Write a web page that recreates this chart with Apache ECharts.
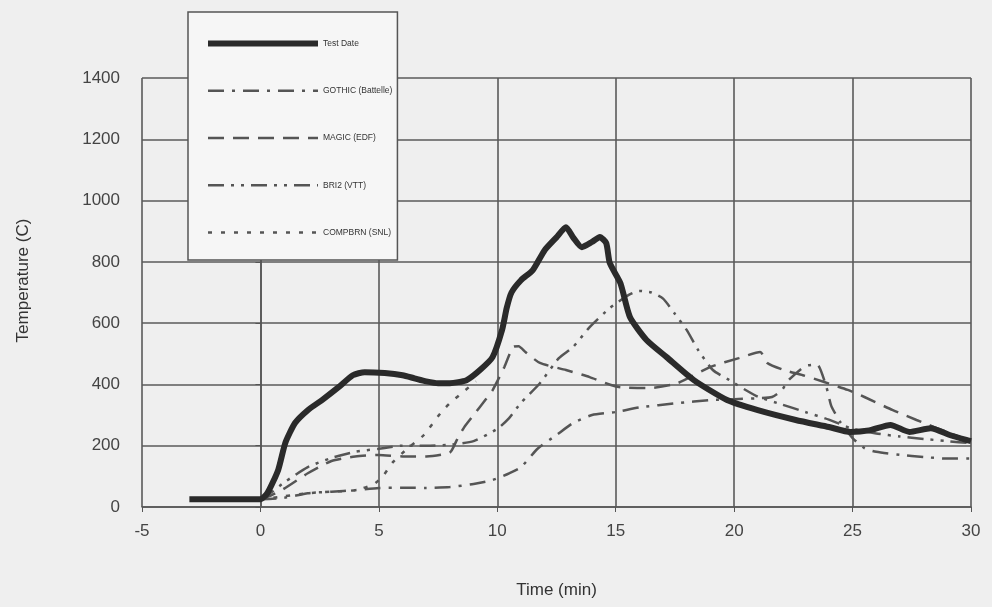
<!DOCTYPE html>
<html>
<head>
<meta charset="utf-8">
<script src="https://cdn.jsdelivr.net/npm/echarts@6/dist/echarts.min.js"></script>
<style>
  html, body { margin: 0; padding: 0; background: #efefef; }
  #main { width: 992px; height: 607px; }
</style>
</head>
<body>
<div id="main"></div>
<script>
// time (min) / temperature (C)
var testTime = [-3, -2, -1, 0, 0.3, 0.75, 1.05, 1.46, 2.0, 2.6, 3.3, 3.9, 4.4, 5.25, 6, 6.5, 7, 7.5, 8, 8.7, 9.27, 9.8, 10.2, 10.4, 10.6, 11, 11.5, 12, 12.5, 12.9, 13.2, 13.57, 14, 14.33, 14.6, 14.75, 15.2, 15.6, 16.3, 17.15, 18.3, 19.7, 21, 22.6, 24, 24.9, 25.7, 26.6, 27.4, 28.3, 29.1, 29.8, 30];
var testTemp = [25, 25, 25, 25, 46, 121, 209, 274, 316, 349, 391, 430, 440, 437, 430, 420, 410, 404, 404, 414, 447, 489, 577, 650, 700, 740, 773, 838, 880, 913, 880, 848, 865, 881, 861, 796, 730, 620, 545, 489, 414, 349, 316, 284, 261, 245, 250, 268, 245, 257, 235, 219, 215];

var gothicTime = [0, 1, 2, 3, 4, 5, 6, 7, 8, 9, 9.8, 10.5, 11, 11.7, 12.5, 13.2, 14, 15, 16, 17.6, 19, 20, 21, 21.6, 22, 22.3, 23, 23.5, 23.9, 24.1, 24.5, 25, 25.5, 26, 27, 28, 29, 30];
var gothicTemp = [25, 30, 45, 50, 55, 62, 63, 62, 65, 75, 88, 110, 130, 190, 235, 274, 300, 310, 325, 339, 349, 352, 355, 359, 380, 414, 460, 465, 390, 330, 275, 225, 192, 180, 170, 163, 158, 158];

var magicTime = [0, 0.5, 1, 2, 3, 4, 5, 6, 7, 8, 8.3, 8.6, 9, 9.5, 9.8, 10.3, 10.66, 10.9, 11.2, 11.8, 12.9, 13.9, 14.8, 15.2, 16.4, 17.6, 19, 20.2, 21.1, 21.4, 22.1, 22.9, 23.8, 24.8, 25.5, 26.7, 27.7, 29.1, 30];
var magicTemp = [25, 40, 60, 110, 150, 165, 170, 165, 165, 178, 220, 260, 300, 350, 381, 457, 522, 525, 505, 470, 447, 424, 398, 391, 388, 404, 457, 486, 506, 470, 447, 430, 408, 382, 359, 316, 284, 241, 215];

var bri2Time = [0, 0.5, 1, 2, 3, 4, 5, 6, 7, 8, 9, 10, 10.5, 11, 11.8, 12.6, 13.2, 13.9, 14.75, 15.5, 16, 16.5, 17, 17.5, 18, 18.5, 19.1, 19.8, 20.5, 21, 22, 23, 24, 25, 26, 27, 28, 29, 30];
var bri2Temp = [25, 50, 80, 130, 160, 180, 190, 200, 200, 203, 215, 255, 290, 340, 404, 486, 522, 587, 649, 690, 705, 700, 680, 630, 577, 510, 447, 414, 381, 360, 335, 310, 285, 255, 240, 230, 222, 215, 208];

var compTime = [0, 1, 2, 3, 4, 4.8, 5.2, 5.6, 6.2, 6.9, 7.6, 8.0, 8.4, 8.8, 9.1];
var compTemp = [25, 35, 45, 50, 55, 75, 104, 147, 190, 235, 306, 339, 365, 391, 410];

var seriesNames = ['Test Date', 'GOTHIC (Battelle)', 'MAGIC (EDF)', 'BRI2 (VTT)', 'COMPBRN (SNL)'];
var xTicks = [-5, 0, 5, 10, 15, 20, 25, 30];
var yTicks = [0, 200, 400, 600, 800, 1000, 1200, 1400];

function pairs(t, v) {
  var out = [];
  for (var i = 0; i < t.length; i++) out.push([t[i], v[i]]);
  return out;
}

var dashes = {
  gothic: [16, 8, 3, 8],
  magic: [16, 9],
  bri2: [16, 7, 3, 7, 3, 7],
  comp: [4, 9]
};

var chart = echarts.init(document.getElementById('main'));

var option = {
  backgroundColor: '#efefef',
  animation: false,
  textStyle: { fontFamily: 'Liberation Sans, Arial, sans-serif' },
  grid: { left: 142, right: 21, top: 78, bottom: 100 },
  legend: {
    orient: 'vertical',
    left: 188,
    top: 12,
    padding: [26, 5, 22, 17],
    itemGap: 36,
    itemWidth: 110,
    itemHeight: 14,
    backgroundColor: '#f6f6f6',
    borderColor: '#555',
    borderWidth: 1.5,
    itemStyle: { opacity: 0 },
    textStyle: { fontSize: 8.5, color: '#333' },
    data: [
      { name: seriesNames[0], lineStyle: { width: 6, color: '#2a2a2a' } },
      { name: seriesNames[1], lineStyle: { width: 2.5 } },
      { name: seriesNames[2], lineStyle: { width: 2.5 } },
      { name: seriesNames[3], lineStyle: { width: 2.5 } },
      { name: seriesNames[4], lineStyle: { width: 2.5 } }
    ]
  },
  xAxis: {
    type: 'value',
    min: xTicks[0],
    max: xTicks[xTicks.length - 1],
    interval: 5,
    name: 'Time (min)',
    nameLocation: 'middle',
    nameGap: 75,
    nameTextStyle: { fontSize: 17, color: '#333' },
    axisLine: { lineStyle: { color: '#555', width: 1.5 } },
    axisTick: { show: true, length: 5, lineStyle: { color: '#555' } },
    axisLabel: { fontSize: 17, color: '#444', margin: 16 },
    splitLine: { show: true, lineStyle: { color: '#5a5a5a', width: 1.6 } }
  },
  yAxis: {
    type: 'value',
    min: yTicks[0],
    max: yTicks[yTicks.length - 1],
    interval: 200,
    name: 'Temperature (C)',
    nameLocation: 'middle',
    nameGap: 110,
    nameTextStyle: { fontSize: 17, color: '#333', padding: [0, 0, 0, 24] },
    axisLine: { show: true, lineStyle: { color: '#555', width: 1.5 } },
    axisTick: { show: true, length: 5, lineStyle: { color: '#555' } },
    axisLabel: { fontSize: 17, color: '#444', margin: 22, formatter: function (v) { return String(v); } },
    splitLine: { show: true, lineStyle: { color: '#5a5a5a', width: 1.6 } }
  },
  series: [
    {
      name: seriesNames[0], type: 'line', showSymbol: false, symbol: 'none', smooth: 0.2, z: 5,
      lineStyle: { color: '#2a2a2a', width: 6 },
      itemStyle: { color: '#2a2a2a' },
      data: pairs(testTime, testTemp)
    },
    {
      name: seriesNames[1], type: 'line', showSymbol: false, symbol: 'none', smooth: 0.2,
      lineStyle: { color: '#555', width: 2.5, type: dashes.gothic },
      itemStyle: { color: '#555' },
      data: pairs(gothicTime, gothicTemp)
    },
    {
      name: seriesNames[2], type: 'line', showSymbol: false, symbol: 'none', smooth: 0.2,
      lineStyle: { color: '#555', width: 2.5, type: dashes.magic },
      itemStyle: { color: '#555' },
      data: pairs(magicTime, magicTemp)
    },
    {
      name: seriesNames[3], type: 'line', showSymbol: false, symbol: 'none', smooth: 0.2,
      lineStyle: { color: '#555', width: 2.5, type: dashes.bri2 },
      itemStyle: { color: '#555' },
      data: pairs(bri2Time, bri2Temp)
    },
    {
      name: seriesNames[4], type: 'line', showSymbol: false, symbol: 'none', smooth: 0.2,
      lineStyle: { color: '#555', width: 2.5, type: dashes.comp },
      itemStyle: { color: '#555' },
      data: pairs(compTime, compTemp)
    }
  ]
};

chart.setOption(option);
</script>
</body>
</html>
